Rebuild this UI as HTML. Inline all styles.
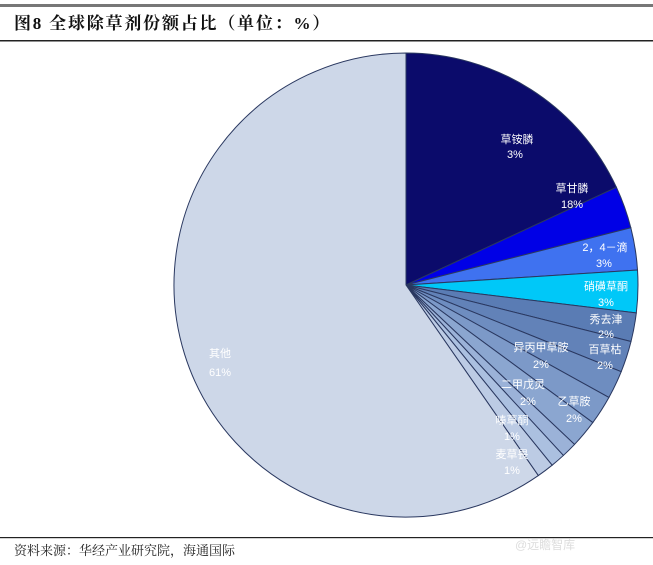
<!DOCTYPE html>
<html><head><meta charset="utf-8"><style>
body{margin:0;background:#fff;width:653px;height:560px;overflow:hidden;font-family:"Liberation Sans","Noto Sans CJK SC",sans-serif;}
</style></head><body>
<svg width="653" height="560" xmlns="http://www.w3.org/2000/svg">
<rect x="0" y="4" width="653" height="3" fill="#777"/>
<text x="14" y="29" font-size="17" font-weight="bold" letter-spacing="1.8" fill="#111" font-family="Liberation Serif,Noto Serif CJK SC,serif">图8  全球除草剂份额占比（单位：%）</text>
<rect x="0" y="40" width="653" height="1.5" fill="#222"/>
<g id="pie"></g>
<g font-size="11" fill="#fff" text-anchor="middle" font-family="Liberation Sans,Noto Sans CJK SC,sans-serif">
<text x="517" y="143">草铵膦</text><text x="515" y="158">3%</text>
<text x="572" y="192">草甘膦</text><text x="572" y="208">18%</text>
<text x="605" y="251">2，4－滴</text><text x="604" y="267">3%</text>
<text x="606" y="290">硝磺草酮</text><text x="606" y="306">3%</text>
<text x="606" y="323">秀去津</text><text x="606" y="338">2%</text>
<text x="541" y="351">异丙甲草胺</text><text x="541" y="368">2%</text>
<text x="605" y="353">百草枯</text><text x="605" y="369">2%</text>
<text x="523" y="388">二甲戊灵</text><text x="528" y="405">2%</text>
<text x="574" y="405">乙草胺</text><text x="574" y="422">2%</text>
<text x="512" y="424">嗪草酮</text><text x="512" y="440">1%</text>
<text x="512" y="458">麦草畏</text><text x="512" y="474">1%</text>
<text x="220" y="357">其他</text><text x="220" y="376">61%</text>
</g>
<rect x="0" y="537" width="653" height="1.2" fill="#222"/>
<text x="14" y="555" font-size="13" fill="#222" font-family="Liberation Serif,Noto Serif CJK SC,serif">资料来源：华经产业研究院，海通国际</text>
<text x="515" y="549" font-size="12" fill="#ddd">@远瞻智库</text>
</svg>
<script>
var cx=406,cy=285,r=232;
var pts=[[406,0],[615,188],[630,228],[637,270],[637,313],[633,342],[622,372],[608,397],[592,422],[573,443],[563,455],[552,465],[540,478]];
var cols=["#0b0b6b","#0000e6","#3f72f0","#00c8f8","#5a7cb4","#6282b8","#6e8dc0","#7c99c8","#8ba6d0","#9bb2d8","#abc0e0","#bccbe4","#cdd7e8"];
var ang=pts.map(function(p,i){return i==0?-Math.PI/2:Math.atan2(p[1]-cy,p[0]-cx);});
ang.push(3*Math.PI/2);
var g=document.getElementById('pie'),s='';
for(var i=0;i<cols.length;i++){var a0=ang[i],a1=ang[i+1];if(a1<a0)a1+=2*Math.PI;
var x0=cx+r*Math.cos(a0),y0=cy+r*Math.sin(a0),x1=cx+r*Math.cos(a1),y1=cy+r*Math.sin(a1);
s+='<path d="M'+cx+','+cy+'L'+x0+','+y0+'A'+r+','+r+' 0 '+((a1-a0)>Math.PI?1:0)+' 1 '+x1+','+y1+'Z" fill="'+cols[i]+'" stroke="#2a3860" stroke-width="1"/>';}
g.innerHTML=s;
</script>
</body></html>
